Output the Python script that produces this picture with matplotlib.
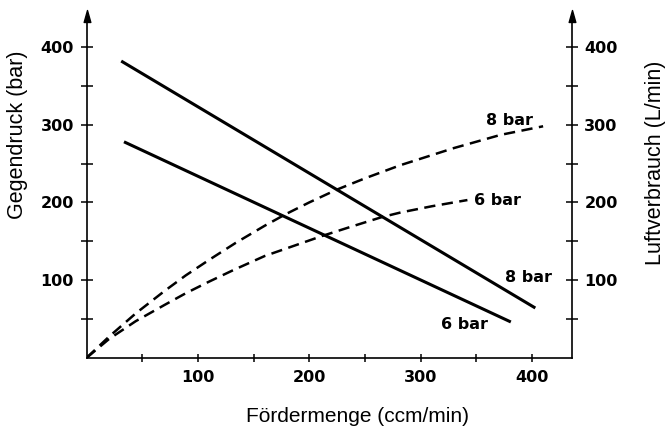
import matplotlib
matplotlib.use("Agg")
import matplotlib.pyplot as plt
from matplotlib.path import Path

# ---- data ----
druck_8_x = [31, 403]
druck_8_y = [382, 64]
druck_6_x = [33.5, 381]
druck_6_y = [278, 46]

luft_8_x = [0, 20, 44, 70, 89, 110, 134, 160, 179, 200, 224, 250, 282, 330, 372, 410]
luft_8_y = [0, 27, 57, 86, 106, 126, 148, 170, 185, 200, 216, 231, 248, 270, 287, 298]
luft_6_x = [0, 20, 44, 70, 89, 110, 132, 160, 192, 212, 236, 265, 282, 310, 342]
luft_6_y = [0, 24, 47, 68, 83, 98, 113, 131, 147, 157, 168, 181, 187, 195, 203]

x_major = [100, 200, 300, 400]
x_minor = [50, 150, 250, 350]
y_major = [100, 200, 300, 400]
y_minor = [50, 150, 250, 350]

labels_text = ["8 bar", "6 bar", "8 bar", "6 bar"]
labels_x = [380, 369, 397, 339]
labels_y = [306, 203, 103, 43]

# ---- figure ----
W, H = 672, 428
fig = plt.figure(figsize=(W / 100, H / 100), dpi=100)
left_px, right_px, bottom_px, top_px = 86.7, 571.5, 357.7, 16
ax = fig.add_axes([left_px / W, (H - bottom_px) / H,
                   (right_px - left_px) / W, (bottom_px - top_px) / H])
ax.set_xlim(0, 435.5)
ax.set_ylim(0, 440)

ax.plot(druck_8_x, druck_8_y, color="black", lw=2.2, solid_capstyle="butt")
ax.plot(druck_6_x, druck_6_y, color="black", lw=2.2, solid_capstyle="butt")
ax.plot(luft_8_x, luft_8_y, color="black", lw=1.8, ls=(0, (4.5, 2.6)))
ax.plot(luft_6_x, luft_6_y, color="black", lw=1.8, ls=(0, (4.5, 2.6)))

for t, x, y in zip(labels_text, labels_x, labels_y):
    ax.text(x, y, t, ha="center", va="center", fontsize=11.5,
            fontweight="bold", family="DejaVu Sans")

# spines
ax.spines["top"].set_visible(False)
for s in ["left", "right", "bottom"]:
    ax.spines[s].set_linewidth(1.2)

ax.set_xticks(x_major)
ax.set_xticks(x_minor, minor=True)
ax.set_yticks(y_major)
ax.set_yticks(y_minor, minor=True)
ax.set_xticklabels([str(v) for v in x_major])
ax.set_yticklabels([str(v) for v in y_major])

ax.tick_params(axis="x", which="both", direction="inout", length=6, width=1.1,
               pad=6)
ax.tick_params(axis="y", which="both", direction="inout", length=8.5, width=1.1,
               left=True, right=True, labelleft=True, labelright=True)
ax.tick_params(axis="y", which="major", pad=5)
for lab in ax.get_xticklabels() + ax.get_yticklabels():
    lab.set_fontweight("bold")
    lab.set_fontsize(11.5)
    lab.set_family("DejaVu Sans")
for t in ax.yaxis.get_major_ticks():
    t.label2.set_fontweight("bold")
    t.label2.set_fontsize(11.5)
    t.label2.set_family("DejaVu Sans")

# arrowheads
arrow = Path([(0, 0.5), (-0.28, -0.5), (0.28, -0.5), (0, 0.5)],
             [Path.MOVETO, Path.LINETO, Path.LINETO, Path.CLOSEPOLY])
for xa in [0, 1]:
    ax.plot([xa], [1], marker=arrow, markersize=8.6, color="black",
            transform=ax.transAxes, clip_on=False, zorder=5)

# axis labels
fig.text(357 / W, 1 - 416 / H, "Fördermenge (ccm/min)", ha="center",
         va="center", fontsize=15, family="Liberation Sans")
fig.text(18 / W, 1 - 135 / H, "Gegendruck (bar)", ha="center", va="center",
         rotation=90, fontsize=15.5, family="Liberation Sans")
fig.text(655 / W, 1 - 163 / H, "Luftverbrauch (L/min)", ha="center",
         va="center", rotation=90, fontsize=15.5, family="Liberation Sans")

fig.savefig("out.png", dpi=100)
